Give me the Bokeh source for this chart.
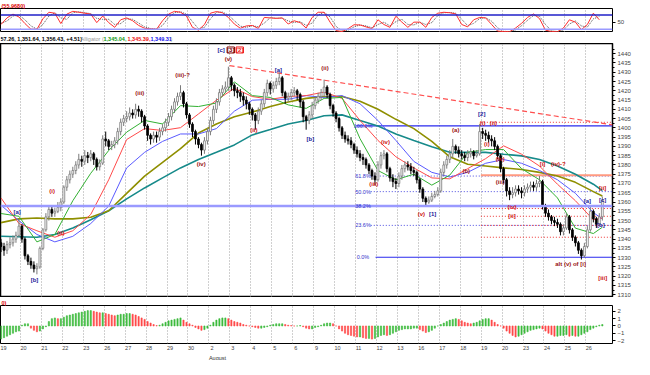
import numpy as np
from bokeh.plotting import figure
from bokeh.layouts import column
from bokeh.models import Range1d, FixedTicker, Label, Span, ColumnDataSource, Title
from bokeh.embed import file_html
from bokeh.resources import INLINE

FONT = "Liberation Sans"

# ---------------- data ----------------
day_labels = ["19", "20", "21", "22", "23", "26", "27", "28", "29", "30",
              "2", "3", "4", "5", "6", "9", "10", "11", "12", "13",
              "16", "17", "18", "19", "20", "23", "24", "25", "26"]
month_label = "August"
month_day_index = 10
BARS_PER_DAY = 7

open_first = 1338
close = [1336, 1334, 1337, 1338, 1340, 1342, 1347, 1340, 1331, 1328,
         1326, 1324, 1325, 1335, 1345, 1352, 1356, 1354, 1355, 1357,
         1360, 1368, 1372, 1375, 1377, 1380, 1383, 1382, 1385, 1384,
         1386, 1383, 1379, 1381, 1394, 1393, 1390, 1391, 1393, 1398,
         1403, 1405, 1406, 1408, 1407, 1410, 1409, 1406, 1401, 1396,
         1394, 1396, 1395, 1398, 1400, 1403, 1406, 1410, 1414, 1417,
         1419, 1413, 1407, 1402, 1398, 1394, 1391, 1388, 1393, 1398,
         1404, 1410, 1414, 1419, 1421, 1422, 1427, 1423, 1420, 1419,
         1417, 1415, 1413, 1410, 1407, 1404, 1409, 1413, 1419, 1424,
         1421, 1423, 1425, 1427, 1419, 1416, 1417, 1419, 1420, 1418,
         1414, 1406, 1404, 1407, 1412, 1415, 1417, 1419, 1422, 1418,
         1412, 1408, 1405, 1400, 1396, 1394, 1393, 1391, 1388, 1386,
         1384, 1383, 1380, 1377, 1374, 1372, 1380, 1385, 1386, 1378,
         1373, 1371, 1370, 1374, 1378, 1380, 1379, 1377, 1376, 1372,
         1367, 1362, 1360, 1361, 1363, 1364, 1366, 1376, 1380, 1383,
         1386, 1390, 1388, 1386, 1385, 1384, 1386, 1387, 1385, 1386,
         1398, 1397, 1396, 1394, 1393, 1390, 1385, 1378, 1372, 1366,
         1364, 1365, 1367, 1366, 1365, 1367, 1368, 1369, 1368, 1370,
         1371, 1358, 1354, 1352, 1350, 1349, 1348, 1344, 1346, 1352,
         1345, 1341, 1338, 1334, 1331, 1336, 1345, 1355, 1351, 1348,
         1352, 1361]
high = [1340, 1338, 1339, 1341, 1342, 1344, 1351, 1348, 1341, 1332,
        1330, 1328, 1327, 1336, 1346, 1354, 1358, 1358, 1357, 1360,
        1362, 1369, 1374, 1377, 1379, 1382, 1386, 1385, 1388, 1387,
        1388, 1387, 1384, 1383, 1396, 1398, 1394, 1393, 1395, 1400,
        1405, 1407, 1409, 1411, 1410, 1413, 1412, 1410, 1407, 1402,
        1397, 1398, 1398, 1400, 1402, 1405, 1408, 1412, 1416, 1419,
        1423, 1420, 1414, 1408, 1403, 1399, 1395, 1392, 1395, 1400,
        1406, 1412, 1416, 1421, 1423, 1425, 1433, 1428, 1424, 1422,
        1421, 1419, 1417, 1414, 1411, 1408, 1411, 1415, 1421, 1426,
        1425, 1425, 1427, 1430, 1428, 1420, 1419, 1421, 1422, 1421,
        1419, 1415, 1407, 1409, 1414, 1417, 1419, 1421, 1426, 1423,
        1419, 1413, 1409, 1406, 1401, 1398, 1396, 1395, 1392, 1390,
        1388, 1386, 1384, 1381, 1378, 1376, 1382, 1387, 1388, 1387,
        1379, 1375, 1373, 1376, 1380, 1382, 1382, 1381, 1379, 1377,
        1373, 1368, 1363, 1363, 1365, 1366, 1368, 1378, 1382, 1385,
        1388, 1394, 1391, 1390, 1388, 1387, 1388, 1389, 1388, 1388,
        1402, 1400, 1399, 1398, 1396, 1395, 1391, 1386, 1379, 1373,
        1368, 1368, 1369, 1369, 1368, 1369, 1370, 1371, 1371, 1372,
        1374, 1372, 1359, 1356, 1353, 1352, 1351, 1349, 1348, 1354,
        1353, 1346, 1342, 1339, 1335, 1338, 1347, 1358, 1356, 1352,
        1354, 1363]
low = [1333, 1331, 1332, 1335, 1336, 1338, 1341, 1338, 1329, 1326,
       1324, 1322, 1321, 1324, 1334, 1344, 1350, 1352, 1352, 1354,
       1355, 1359, 1366, 1370, 1373, 1375, 1378, 1379, 1380, 1381,
       1382, 1380, 1377, 1377, 1380, 1390, 1388, 1388, 1389, 1391,
       1396, 1401, 1403, 1404, 1405, 1405, 1406, 1403, 1399, 1393,
       1391, 1392, 1392, 1393, 1396, 1398, 1401, 1404, 1408, 1412,
       1415, 1411, 1405, 1400, 1395, 1391, 1389, 1385, 1386, 1391,
       1396, 1402, 1408, 1412, 1417, 1419, 1420, 1420, 1417, 1416,
       1414, 1412, 1410, 1407, 1404, 1399, 1402, 1407, 1411, 1417,
       1418, 1419, 1421, 1423, 1417, 1413, 1414, 1415, 1417, 1415,
       1411, 1403, 1399, 1402, 1405, 1410, 1413, 1415, 1417, 1416,
       1410, 1406, 1403, 1398, 1394, 1392, 1391, 1389, 1386, 1384,
       1382, 1380, 1378, 1375, 1372, 1369, 1371, 1378, 1383, 1376,
       1371, 1368, 1367, 1368, 1372, 1376, 1377, 1375, 1374, 1370,
       1365, 1360, 1358, 1359, 1360, 1362, 1363, 1365, 1374, 1378,
       1381, 1384, 1386, 1384, 1383, 1382, 1382, 1384, 1383, 1384,
       1385, 1394, 1393, 1392, 1390, 1388, 1383, 1376, 1370, 1363,
       1361, 1362, 1363, 1364, 1362, 1363, 1365, 1366, 1366, 1366,
       1368, 1356, 1352, 1350, 1348, 1347, 1346, 1342, 1342, 1345,
       1343, 1339, 1336, 1332, 1329, 1330, 1335, 1344, 1349, 1346,
       1347, 1350]

# moving averages (every 6 bars)
ma_bars = list(range(0, 199, 6)) + [201]
ma_teal = [1341.5, 1341.3, 1341.0, 1342.5, 1346.0, 1350.4, 1355.3, 1361.7, 1367.6, 1373.0,
           1378.4, 1382.9, 1386.8, 1390.8, 1396.2, 1399.1, 1402.1, 1404.0, 1406.5, 1407.0,
           1404.0, 1401.0, 1396.7, 1393.2, 1389.8, 1386.8, 1386.8, 1386.8, 1385.8, 1384.9,
           1382.9, 1379.4, 1375.0, 1369.6, 1366.1]
ma_olive = [1348.9, 1350.9, 1351.4, 1350.9, 1350.9, 1351.8, 1355.3, 1364.7, 1374.0, 1381.4,
            1388.8, 1397.2, 1402.1, 1406.0, 1408.5, 1411.5, 1413.9, 1415.9, 1416.9, 1416.9,
            1414.4, 1410.0, 1404.6, 1399.6, 1392.7, 1384.4, 1380.4, 1379.4, 1378.4, 1377.5,
            1376.0, 1374.0, 1370.6, 1365.6, 1363.2]
jaw_blue = [1358.3, 1349.9, 1342.5, 1338.5, 1341.5, 1348.4, 1357.8, 1378.4, 1386.8, 1392.7,
            1396.7, 1396.7, 1399.6, 1409.0, 1414.9, 1415.4, 1415.4, 1417.4, 1416.4, 1417.4,
            1413.0, 1404.0, 1393.2, 1381.9, 1376.0, 1373.5, 1376.0, 1380.9, 1382.9, 1380.9,
            1377.0, 1372.0, 1364.7, 1354.3, 1350.9]
teeth_red = [1362.2, 1348.4, 1344.5, 1341.0, 1344.5, 1353.3, 1372.0, 1393.7, 1399.6, 1398.6,
             1400.1, 1407.5, 1414.9, 1421.3, 1416.9, 1415.4, 1416.9, 1417.4, 1419.3, 1415.9,
             1404.0, 1393.2, 1384.4, 1378.4, 1373.0, 1372.5, 1378.0, 1383.4, 1390.3, 1385.8,
             1379.4, 1369.6, 1360.7, 1350.4, 1351.4]
lips_green = [1353.8, 1352.3, 1338.5, 1342.5, 1360.7, 1375.5, 1387.8, 1397.7, 1404.0, 1402.1,
              1412.0, 1411.5, 1413.4, 1424.8, 1417.4, 1416.4, 1412.4, 1410.5, 1415.9, 1416.4,
              1394.2, 1377.0, 1372.0, 1375.0, 1369.1, 1374.5, 1386.8, 1388.3, 1388.3, 1378.0,
              1372.0, 1362.2, 1345.9, 1343.0, 1346.4]

# stochastic (every 2 bars)
stoch_bars = list(range(0, 201, 2))
stoch_k = [40, 68, 84, 72, 44, 20, 20, 64, 92, 88,
           44, 84, 96, 92, 88, 84, 48, 76, 48, 28,
           60, 68, 56, 36, 24, 22, 20, 56, 84, 96,
           92, 76, 28, 16, 40, 88, 95, 90, 70, 42,
           24, 34, 36, 23, 70, 68, 66, 68, 42, 56,
           48, 25, 70, 92, 92, 50, 14, 10, 22, 39,
           38, 30, 22, 60, 40, 28, 75, 50, 28, 50,
           50, 28, 70, 88, 92, 90, 85, 40, 30, 60,
           70, 68, 40, 12, 10, 9, 25, 45, 70, 85,
           65, 16, 10, 9, 25, 60, 50, 18, 40, 88,
           60]
stoch_d = [45, 55, 76, 80, 60, 34, 20, 40, 76, 90,
           68, 62, 90, 94, 90, 86, 66, 62, 62, 40,
           44, 64, 62, 46, 30, 23, 21, 36, 70, 90,
           94, 84, 52, 22, 28, 64, 92, 93, 80, 56,
           33, 28, 35, 30, 46, 69, 67, 67, 55, 49,
           52, 36, 46, 80, 92, 72, 32, 12, 16, 30,
           38, 34, 26, 40, 50, 34, 52, 62, 40, 38,
           50, 40, 48, 78, 90, 91, 88, 62, 35, 45,
           65, 69, 54, 26, 11, 10, 17, 35, 58, 78,
           75, 40, 13, 10, 17, 42, 55, 34, 29, 64,
           74]
stoch_levels = [80, 20]

# oscillator histogram (one per bar)
hist = [-1.8, -1.6, -1.4, -1.2, -1.0, -0.8, -0.7, 0.1, 0.3, 0.3,
        -0.3, -0.6, -0.8, -0.7, -0.4, -0.1, 0.6, 1.0, 1.1, 1.0,
        1.0, 1.2, 1.4, 1.5, 1.6, 1.7, 1.8, 1.9, 2.0, 2.1,
        2.1, 2.0, 1.9, 1.8, 1.8, 1.7, 1.6, 1.5, 1.4, 1.5,
        1.6, 1.6, 1.7, 1.7, 1.6, 1.5, 1.3, 1.1, 0.9, 0.6,
        0.4, 0.2, 0.05, 0.1, 0.3, 0.5, 0.7, 0.8, 0.9, 1.0,
        1.1, 0.8, 0.5, 0.3, 0.1, -0.2, -0.4, -0.6, -0.5, -0.3,
        0.1, 0.5, 0.8, 1.0, 1.1, 1.1, 1.0, 0.8, 0.6, 0.5,
        0.4, 0.2, 0.1, 0.0, -0.1, -0.2, -0.3, -0.3, -0.2, -0.1,
        0.1, 0.2, 0.3, 0.3, 0.3, 0.2, 0.1, 0.05, 0.0, 0.0,
        0.05, -0.1, -0.3, -0.4, -0.4, -0.2, -0.1, 0.1, 0.3, 0.4,
        0.4, 0.3, 0.0, -0.4, -0.7, -1.0, -1.2, -1.3, -1.4, -1.5,
        -1.5, -1.6, -1.7, -1.7, -1.8, -1.7, -1.5, -1.3, -1.2, -1.3,
        -1.2, -1.0, -0.8, -0.6, -0.5, -0.4, -0.4, -0.4, -0.3, -0.3,
        -0.5, -0.7, -0.9, -0.8, -0.6, -0.3, 0.0, 0.2, 0.4, 0.6,
        0.8, 0.9, 1.0, 0.9, 0.7, 0.5, 0.4, 0.3, 0.4, 0.5,
        0.7, 0.9, 1.0, 1.0, 0.8, 0.5, 0.2, 0.0, -0.3, -0.7,
        -1.0, -1.3, -1.5, -1.4, -1.2, -1.0, -0.8, -0.6, -0.5, -0.4,
        -0.3, -0.4, -0.7, -1.0, -1.2, -1.4, -1.4, -1.3, -1.3, -1.2,
        -1.4, -1.3, -1.4, -1.4, -1.2, -1.0, -0.8, -0.5, -0.3, -0.1,
        0.1, 0.2]

# fibonacci / level lines
fib_names = ["100.0%", "61.8%", "50.0%", "38.2%", "23.6%", "0.0%"]
fib_levels = [1401.1, 1374.0, 1365.6, 1357.8, 1347.4, 1330.2]
fib_start = [118.7, 123.6, 123.6, 123.6, 123.6, 125.2]
fib_style = ["solid", "dot", "dot", "wide", "dot", "solid"]
red_levels = [1403.0, 1356.5, 1352.3, 1347.4, 1341.0]
red_start = 160.4
salmon_level = 1374.5
trend_bars = [76.4, 204.4]
trend_prices = [1433.6, 1401.6]

NAVY = "#1a1a9a"
RED = "#cc1111"
DRED = "#991111"
waves = [
    ("[a]", 5.4, 1354.8, NAVY), ("[b]", 11.2, 1317.9, NAVY),
    ("(i)", 17.1, 1366.1, RED), ("(ii)", 20.0, 1343.5, RED),
    ("(iii)", 46.4, 1418.8, DRED), ("(iii)-?", 60.7, 1428.7, DRED),
    ("(iv)", 66.9, 1380.4, DRED), ("(v)", 76.0, 1437.0, DRED),
    ("[c]", 73.6, 1442.0, NAVY),
    ("[a]", 92.7, 1431.2, NAVY), ("(ii)", 84.5, 1398.6, RED),
    ("[b]", 103.4, 1394.2, NAVY), ("(ii)", 108.3, 1432.1, DRED),
    ("(iv)", 128.5, 1392.2, RED), ("(iii)", 124.6, 1369.6, RED),
    ("(v)", 140.5, 1353.8, RED), ("[1]", 144.3, 1353.8, NAVY),
    ("(a)", 152.0, 1398.6, DRED), ("(b)", 155.5, 1377.0, DRED),
    ("[2]", 160.7, 1407.5, NAVY), ("(i)", 161.0, 1402.6, RED), ("(ii)", 164.6, 1402.6, RED),
    ("(i)", 162.4, 1391.3, RED), ("(iv)", 166.9, 1383.4, RED),
    ("(iii)", 166.9, 1371.0, DRED), ("(iv)", 170.8, 1357.3, RED),
    ("[ii]", 170.8, 1352.3, RED), ("[i]", 181.0, 1380.4, RED),
    ("(iv)-?", 186.3, 1380.4, RED), ("alt (v) of [i]", 190.4, 1326.7, DRED),
    ("[a]", 196.0, 1360.7, NAVY), ("[b]", 200.5, 1347.4, NAVY),
    ("[c]", 201.1, 1361.2, NAVY), ("[ii]", 201.1, 1367.6, RED),
    ("[iii]", 201.1, 1318.8, RED),
]
boxed = [("[3]", 76.8, 1442.0, "#7a0000"), ("[2]", 79.8, 1442.0, "#ee1111")]

header = [("57.26, 1,351.64, 1,356.43, +4.51)", 0, "#000000", "bold"),
          ("Alligator (", 80, "#999999", "normal"),
          ("1,345.04,", 103, "#119911", "bold"),
          ("1,345.39,", 127, "#ee1111", "bold"),
          ("1,349.31", 150, "#1111ee", "bold"),
          (")", 170, "#999999", "normal")]

# ---------------- layout helpers ----------------
FW = 612
n = len(close)
bars = list(range(n))
opens = [open_first] + close[:-1]
day_starts = [BARS_PER_DAY * d - 0.5 for d in range(len(day_labels))]
xr = Range1d(-0.17, 204.4)


def style_title(t, color):
    t.text_font = FONT
    t.text_font_size = "5.5px"
    t.text_font_style = "bold"
    t.text_color = color
    t.standoff = 0
    t.offset = 1


def make_fig(fh, yr, xaxis, title=None, bottom=0):
    f = figure(frame_width=FW, frame_height=fh, x_range=xr, y_range=yr,
               output_backend="svg", toolbar_location=None, title=title,
               y_axis_location="right",
               x_axis_location="below" if xaxis else None,
               min_border_left=0, min_border_right=0,
               min_border_top=0, min_border_bottom=bottom)
    f.outline_line_color = "black"
    f.outline_line_width = 1
    f.ygrid.visible = False
    f.xgrid.ticker = FixedTicker(ticks=day_starts)
    f.xgrid.grid_line_color = "#a0a0a0"
    f.xgrid.grid_line_dash = "1 2"
    ya = f.yaxis[0]
    ya.major_label_text_font = FONT
    ya.major_label_text_font_size = "6px"
    ya.major_label_standoff = 2
    ya.major_tick_out = 3
    ya.major_tick_in = 0
    ya.minor_tick_out = 2
    ya.minor_tick_in = 0
    ya.axis_line_color = None
    return f


def make_strip(fh):
    f = figure(frame_width=FW, frame_height=fh, x_range=xr, y_range=Range1d(0, 1),
               output_backend="svg", toolbar_location=None,
               x_axis_location=None, y_axis_location=None,
               min_border_left=0, min_border_right=0,
               min_border_top=0, min_border_bottom=0)
    f.outline_line_color = None
    f.xgrid.visible = False
    f.ygrid.visible = False
    return f


# ---------------- stochastic panel ----------------
s = make_fig(24, Range1d(6, 108), False, title="(55.9680)")
style_title(s.title, "#dd0000")
s.yaxis[0].ticker = FixedTicker(ticks=[50])
s.add_layout(Span(location=stoch_levels[0], dimension="width", line_color="#2020c8", line_width=1.5))
s.add_layout(Span(location=stoch_levels[1], dimension="width", line_color="#9a9aff", line_width=1.5))
s.line(stoch_bars, stoch_d, line_color="#555555", line_dash="1 1", line_width=1)
s.line(stoch_bars, stoch_k, line_color="#ff3030", line_width=1)

# ---------------- header strip ----------------
h = make_strip(11)
for t, xs, col, sty in header:
    h.add_layout(Label(x=xs, y=5.5, x_units="screen", y_units="screen", text=t,
                       text_color=col, text_font=FONT, text_font_size="5.5px",
                       text_font_style=sty, text_baseline="middle"))

# ---------------- price panel ----------------
p = make_fig(254, Range1d(1308.5, 1445.5), False)
p.outline_line_width = 1.5
p.yaxis[0].ticker = FixedTicker(ticks=list(range(1310, 1445, 5)),
                                minor_ticks=[v + 2.5 for v in range(1305, 1445, 5)])

for name, lev, st, sty in zip(fib_names, fib_levels, fib_start, fib_style):
    if sty == "wide":
        p.add_layout(Span(location=lev, dimension="width", line_color="#9a9aff", line_width=2.5))
    elif sty == "solid":
        p.line([st, xr.end], [lev, lev], line_color="#2a2aee", line_width=1.2)
    else:
        p.line([st, xr.end], [lev, lev], line_color="#4a4ae0", line_width=1, line_dash="1 2")
p.line([red_start, xr.end], [salmon_level, salmon_level], line_color="#ff9a80", line_width=2)
for lev in red_levels:
    p.line([red_start, xr.end], [lev, lev], line_color="#ee3333", line_width=1, line_dash="1 2")
p.line(trend_bars, trend_prices, line_color="#ff5050", line_width=1.2, line_dash="5 3")

p.line(ma_bars, ma_teal, line_color="#168a8a", line_width=1.6)
p.line(ma_bars, ma_olive, line_color="#8f8f00", line_width=1.6)
p.line(ma_bars, jaw_blue, line_color="#5a5aff", line_width=1)
p.line(ma_bars, teeth_red, line_color="#ff4a4a", line_width=1)
p.line(ma_bars, lips_green, line_color="#33b033", line_width=1)

up = [c >= o for o, c in zip(opens, close)]
csrc = ColumnDataSource(dict(
    x=bars, h=high, l=low,
    top=[max(o, c) for o, c in zip(opens, close)],
    bottom=[min(o, c) for o, c in zip(opens, close)],
    fill=["#ffffff" if u else "#000000" for u in up],
    line=["#7a7a7a" if u else "#000000" for u in up],
))
p.segment(x0="x", y0="l", x1="x", y1="h", line_color="line", line_width=1, source=csrc)
p.vbar(x="x", top="top", bottom="bottom", width=0.62, fill_color="fill",
       line_color="line", line_width=0.8, source=csrc)

for name, lev in zip(fib_names, fib_levels):
    p.add_layout(Label(x=121.0, y=lev, text=name, text_color="#3333cc", text_font=FONT,
                       text_font_size="5.5px", text_align="center", text_baseline="middle"))

for t, bx, pr, col in waves:
    p.add_layout(Label(x=bx, y=pr, text=t, text_color=col, text_font=FONT,
                       text_font_size="6px", text_font_style="bold",
                       text_align="center", text_baseline="middle"))
for t, bx, pr, col in boxed:
    p.add_layout(Label(x=bx, y=pr, text=t, text_color=col, text_font=FONT,
                       text_font_size="6px", text_font_style="bold",
                       text_align="center", text_baseline="middle",
                       border_line_color=col, border_line_width=1,
                       background_fill_color="white", padding=0))

# ---------------- oscillator panel ----------------
q = make_fig(38, Range1d(-2.4, 2.8), True, title="0)")
style_title(q.title, "#dd0000")
q.yaxis[0].ticker = FixedTicker(ticks=[-2, -1, 0, 1, 2])
prev = [hist[0]] + hist[:-1]
hcol = ["#3dbb3d" if v >= pv else "#ff4848" for v, pv in zip(hist, prev)]
q.vbar(x=bars, top=hist, bottom=0, width=0.4, fill_color=hcol, line_color=hcol, line_width=0.6)
xa = q.xaxis[0]
label_ticks = [ds + 1.0 for ds in day_starts]
xa.ticker = FixedTicker(ticks=label_ticks)
xa.major_label_overrides = {t: lab for t, lab in zip(label_ticks, day_labels)}
xa.major_tick_line_color = None
xa.minor_tick_line_color = None
xa.major_tick_out = 0
xa.minor_tick_out = 0
xa.axis_line_color = None
xa.major_label_text_font = FONT
xa.major_label_text_font_size = "5.5px"
xa.major_label_standoff = 2

month_x = (day_starts[month_day_index] - xr.start) / (xr.end - xr.start) * FW
mt = Title(text=month_label, align="left", offset=month_x, text_font=FONT,
           text_font_size="5.5px", text_font_style="normal", text_color="#333333", standoff=0)
q.add_layout(mt, "below")

layout = column(s, h, p, q, spacing=0)
open("out.html", "w").write(file_html(layout, INLINE))
